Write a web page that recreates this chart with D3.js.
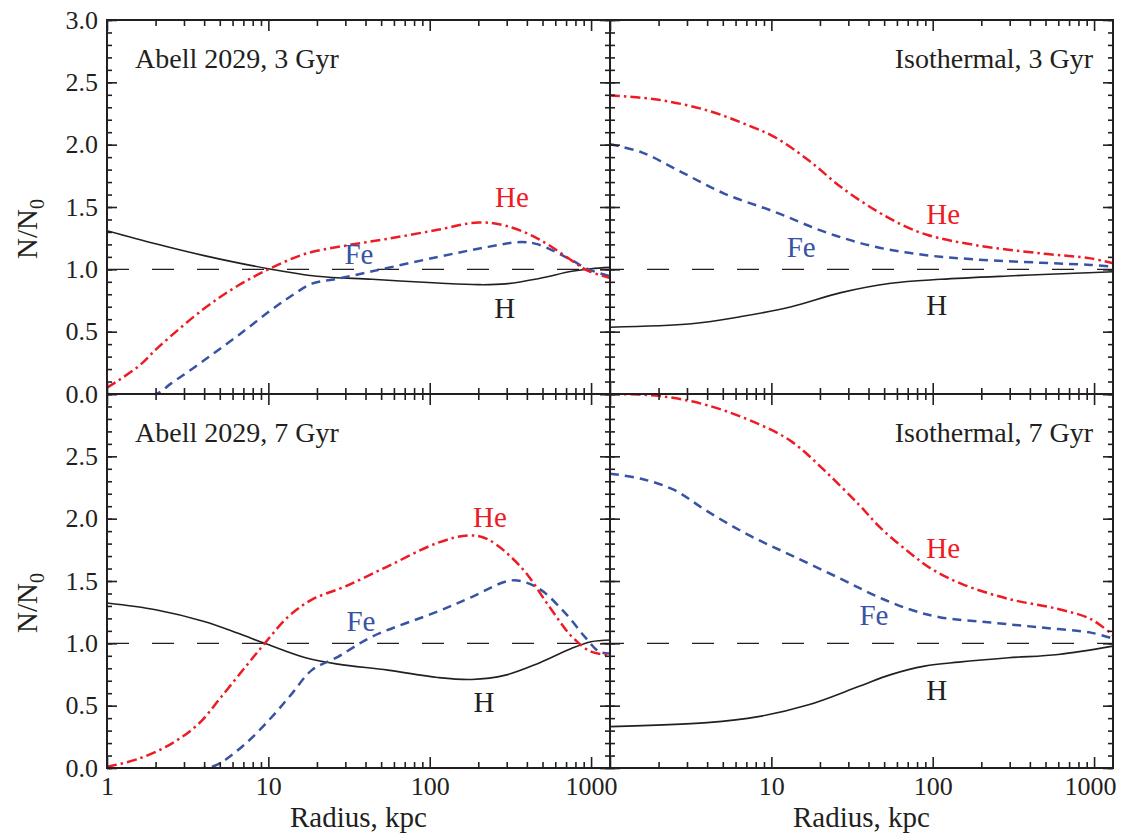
<!DOCTYPE html>
<html lang="en">
<head>
<meta charset="UTF-8">
<title>N/N0 radial profiles</title>
<script src="https://cdn.jsdelivr.net/npm/d3@7"></script>
<style>
  body { margin: 0; background: #fff; }
  text { font-family: "Liberation Serif", "Times New Roman", serif; fill: #231f20; }
</style>
</head>
<body>
<svg width="1132" height="838" id="mainsvg"></svg>
<script>
// ---- data (radius in kpc, value N/N0) ----
// Abell 2029, 3 Gyr
const a3H_r  = [1, 2, 4, 10, 20, 44, 112, 200, 295, 470, 760, 1000, 1310];
const a3H    = [1.31, 1.205, 1.11, 1.005, 0.945, 0.92, 0.89, 0.877, 0.883, 0.925, 0.984, 1.005, 1.016];
const a3He_r = [1, 1.56, 2.1, 4, 6.5, 10.5, 17, 30, 55, 112, 200, 295, 470, 760, 950, 1310];
const a3He   = [0.05, 0.22, 0.38, 0.685, 0.87, 1.013, 1.125, 1.19, 1.245, 1.317, 1.376, 1.35, 1.245, 1.07, 0.99, 0.93];
const a3Fe_r = [1, 2, 2.5, 4, 6.5, 10.5, 14, 18.6, 27, 44, 112, 230, 370, 470, 760, 950, 1310];
const a3Fe   = [0, 0, 0.085, 0.27, 0.47, 0.677, 0.79, 0.885, 0.925, 0.984, 1.099, 1.18, 1.219, 1.2, 1.072, 1.003, 0.944];

// Isothermal, 3 Gyr
const i3H_r  = [1, 3.2, 6.5, 13.3, 27, 55, 112, 295, 760, 1310];
const i3H    = [0.536, 0.563, 0.621, 0.70, 0.813, 0.888, 0.92, 0.947, 0.968, 0.981];
const i3He_r = [1, 2, 4, 7.2, 10.5, 17, 27, 44, 65, 93, 182, 470, 950, 1310];
const i3He   = [2.395, 2.36, 2.275, 2.155, 2.06, 1.875, 1.66, 1.475, 1.355, 1.275, 1.195, 1.128, 1.088, 1.048];
const i3Fe_r = [1, 1.56, 2.77, 5.1, 10.5, 21.4, 44, 89, 182, 470, 950, 1310];
const i3Fe   = [2.003, 1.94, 1.78, 1.608, 1.461, 1.30, 1.181, 1.115, 1.08, 1.053, 1.035, 1.021];

// Abell 2029, 7 Gyr
const a7H_r  = [1, 2, 4, 6.5, 9.5, 17, 27, 55, 112, 182, 295, 470, 760, 1000, 1310];
const a7H    = [1.323, 1.269, 1.175, 1.08, 1.0, 0.884, 0.833, 0.785, 0.726, 0.71, 0.745, 0.839, 0.96, 1.013, 1.027];
const a7He_r = [1, 1.56, 2.5, 3.7, 5.1, 7.2, 9.5, 13.3, 18.6, 30, 55, 112, 174, 230, 372, 550, 760, 1000, 1310];
const a7He   = [0.01, 0.073, 0.194, 0.355, 0.57, 0.81, 1.0, 1.215, 1.35, 1.457, 1.618, 1.806, 1.866, 1.833, 1.605, 1.296, 1.054, 0.933, 0.906];
const a7Fe_r = [1, 4, 4.9, 7.2, 10.5, 14, 18.6, 27, 44, 112, 182, 324, 468, 692, 912, 1122, 1310];
const a7Fe   = [0, 0, 0.032, 0.194, 0.409, 0.597, 0.785, 0.892, 1.054, 1.255, 1.371, 1.505, 1.444, 1.242, 1.054, 0.933, 0.919];

// Isothermal, 7 Gyr
const i7H_r  = [1, 4, 8.3, 17, 35, 55, 89, 145, 295, 600, 1310];
const i7H    = [0.332, 0.364, 0.412, 0.507, 0.655, 0.749, 0.817, 0.849, 0.884, 0.911, 0.978];
const i7He_r = [1, 2, 4, 8.3, 13.3, 21.4, 35, 48, 71, 98, 151, 295, 600, 955, 1310];
const i7He   = [3.0, 2.985, 2.91, 2.76, 2.62, 2.385, 2.11, 1.92, 1.733, 1.598, 1.477, 1.356, 1.275, 1.194, 1.065];
const i7Fe_r = [1, 1.56, 2.5, 4, 7.2, 13.3, 27, 44, 71, 112, 229, 468, 955, 1310];
const i7Fe   = [2.361, 2.32, 2.23, 2.06, 1.87, 1.706, 1.517, 1.383, 1.275, 1.208, 1.167, 1.127, 1.086, 1.038];

// tick labels
const yLabelsTop = [0, 0.5, 1, 1.5, 2, 2.5, 3];
const yLabelsBottom = [0, 0.5, 1, 1.5, 2, 2.5];
const xLabelsLeft = [1, 10, 100, 1000];
const xLabelsRight = [10, 100, 1000];

// ---- layout ----
const svg = d3.select('#mainsvg');
const margin = { top: 20, left: 107 };
const panelW = 503, panelH = 374;

const x = d3.scaleLog().domain([1, 1310]).range([0, panelW]);
const y = d3.scaleLinear().domain([0, 3]).range([panelH, 0]);

const line = d3.line()
    .x(d => x(d[0]))
    .y(d => y(d[1]))
    .curve(d3.curveCatmullRom.alpha(0.5));

const zip = (r, v) => r.map((d, i) => [d, v[i]]);

const style = {
    H:  { color: '#231f20', width: 1.6, dash: null },
    He: { color: '#ed1c24', width: 2.5, dash: '10,4,2.5,4' },
    Fe: { color: '#3953a4', width: 2.5, dash: '9,6' }
};

const panels = [
    { col: 0, row: 0, title: 'Abell 2029, 3 Gyr', anchor: 'start',
      series: { H: zip(a3H_r, a3H), He: zip(a3He_r, a3He), Fe: zip(a3Fe_r, a3Fe) },
      labels: { He: [323, 1.50], Fe: [36.4, 1.043], H: [292, 0.612] } },
    { col: 1, row: 0, title: 'Isothermal, 3 Gyr', anchor: 'end',
      series: { H: zip(i3H_r, i3H), He: zip(i3He_r, i3He), Fe: zip(i3Fe_r, i3Fe) },
      labels: { He: [116, 1.366], Fe: [15.3, 1.101], H: [106, 0.636] } },
    { col: 0, row: 1, title: 'Abell 2029, 7 Gyr', anchor: 'start',
      series: { H: zip(a7H_r, a7H), He: zip(a7He_r, a7He), Fe: zip(a7Fe_r, a7Fe) },
      labels: { He: [236, 1.933], Fe: [37.5, 1.099], H: [217, 0.449] } },
    { col: 1, row: 1, title: 'Isothermal, 7 Gyr', anchor: 'end',
      series: { H: zip(i7H_r, i7H), He: zip(i7He_r, i7He), Fe: zip(i7Fe_r, i7Fe) },
      labels: { He: [116, 1.684], Fe: [43.2, 1.147], H: [106, 0.545] } }
];

const yMinor = d3.range(0, 3.01, 0.1);
const yMajor = d3.range(0, 3.01, 0.5);
const xMajor = [1, 10, 100, 1000];
const xMinor = [];
[1, 10, 100, 1000].forEach(p => d3.range(2, 10).forEach(k => { if (k * p <= 1310) xMinor.push(k * p); }));

function tickAxis(gen, scale, values, size) {
    return gen(scale).tickValues(values).tickSize(size).tickSizeOuter(0).tickFormat('');
}

// dashed reference line at N/N0 = 1, across both columns
[0, 1].forEach(row => {
    svg.append('line')
        .attr('x1', margin.left).attr('x2', margin.left + 2 * panelW)
        .attr('y1', margin.top + row * panelH + y(1))
        .attr('y2', margin.top + row * panelH + y(1))
        .attr('stroke', '#231f20').attr('stroke-width', 1.2)
        .attr('stroke-dasharray', '22,23');
});

panels.forEach((p, i) => {
    const g = svg.append('g')
        .attr('transform', `translate(${margin.left + p.col * panelW},${margin.top + p.row * panelH})`);

    svg.append('clipPath').attr('id', 'clip' + i)
        .append('rect').attr('width', panelW).attr('height', panelH);

    const curves = g.append('g').attr('clip-path', `url(#clip${i})`);
    ['H', 'Fe', 'He'].forEach(k => {
        curves.append('path')
            .datum(p.series[k])
            .attr('d', line)
            .attr('fill', 'none')
            .attr('stroke', style[k].color)
            .attr('stroke-width', style[k].width)
            .attr('stroke-dasharray', style[k].dash);
    });

    // series labels
    Object.entries(p.labels).forEach(([k, pos]) => {
        g.append('text')
            .attr('x', x(pos[0])).attr('y', y(pos[1]))
            .attr('text-anchor', 'middle')
            .attr('font-size', 29)
            .style('fill', style[k].color)
            .text(k);
    });

    // panel title
    g.append('text')
        .attr('x', p.anchor === 'start' ? 28 : panelW - 20)
        .attr('y', 48)
        .attr('text-anchor', p.anchor)
        .attr('font-size', 28)
        .text(p.title);

    // inward ticks on all four sides
    const axes = g.append('g').attr('class', 'ticks');
    axes.append('g').call(tickAxis(d3.axisRight, y, yMinor, 5));
    axes.append('g').call(tickAxis(d3.axisRight, y, yMajor, 10));
    axes.append('g').attr('transform', `translate(${panelW},0)`).call(tickAxis(d3.axisLeft, y, yMinor, 5));
    axes.append('g').attr('transform', `translate(${panelW},0)`).call(tickAxis(d3.axisLeft, y, yMajor, 10));
    axes.append('g').call(tickAxis(d3.axisBottom, x, xMinor, 6));
    axes.append('g').call(tickAxis(d3.axisBottom, x, xMajor, 11));
    axes.append('g').attr('transform', `translate(0,${panelH})`).call(tickAxis(d3.axisTop, x, xMinor, 6));
    axes.append('g').attr('transform', `translate(0,${panelH})`).call(tickAxis(d3.axisTop, x, xMajor, 11));
    axes.selectAll('.domain').remove();
    axes.selectAll('line').attr('stroke', '#231f20').attr('stroke-width', 1.6);

    // frame
    g.append('rect')
        .attr('width', panelW).attr('height', panelH)
        .attr('fill', 'none').attr('stroke', '#231f20').attr('stroke-width', 2);

    // tick labels
    if (p.col === 0) {
        const yl = g.append('g')
            .call(d3.axisLeft(y)
                .tickValues(p.row === 0 ? yLabelsTop : yLabelsBottom)
                .tickSize(0).tickPadding(9)
                .tickFormat(d3.format('.1f')));
        yl.select('.domain').remove();
        yl.selectAll('text').attr('font-size', 26).attr('font-family', null).style('fill', '#231f20');
    }
    if (p.row === 1) {
        const xl = g.append('g').attr('transform', `translate(0,${panelH})`)
            .call(d3.axisBottom(x)
                .tickValues(p.col === 0 ? xLabelsLeft : xLabelsRight)
                .tickSize(0).tickPadding(9)
                .tickFormat(d3.format('d')));
        xl.select('.domain').remove();
        xl.selectAll('text').attr('font-size', 26).attr('font-family', null).style('fill', '#231f20');
        if (p.col === 1) xl.selectAll('text').filter(d => d === 1000).attr('dx', -4);

        g.append('text')
            .attr('x', panelW / 2).attr('y', panelH + 59)
            .attr('text-anchor', 'middle')
            .attr('font-size', 29)
            .text('Radius, kpc');
    }
    if (p.col === 0) {
        const t = g.append('text')
            .attr('transform', `translate(-70,${panelH / 2 + 22}) rotate(-90)`)
            .attr('text-anchor', 'middle')
            .attr('font-size', 29);
        t.append('tspan').text('N/N');
        t.append('tspan').attr('font-size', 20).attr('dy', 7).text('0');
    }
});
</script>
</body>
</html>
